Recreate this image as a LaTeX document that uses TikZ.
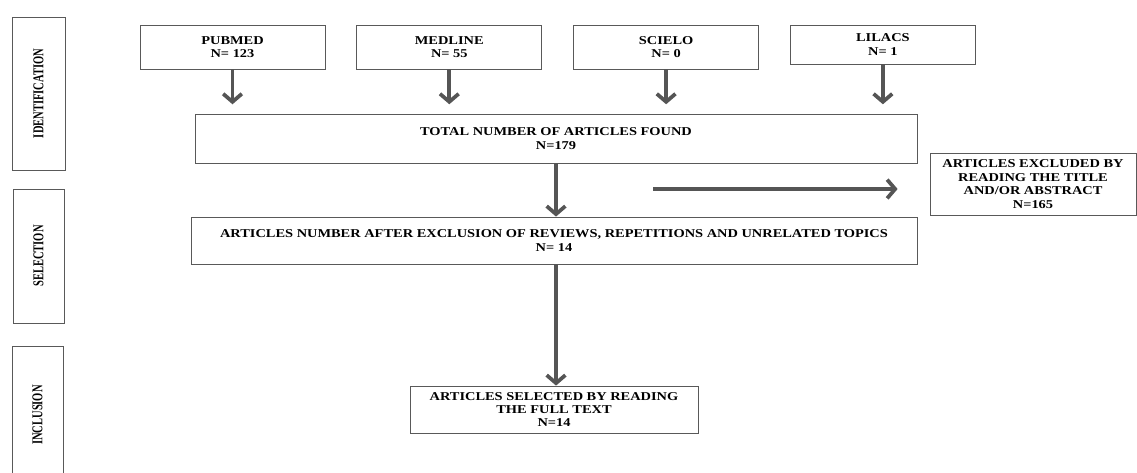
\documentclass[tikz,border=0pt]{standalone}
\usepackage{fontspec}
\setmainfont{Liberation Serif}
\newfontfamily\boxfont{Liberation Serif}[FakeStretch=1.2]
\newfontfamily\stagefont{Liberation Serif}[FakeStretch=0.7]
\usetikzlibrary{positioning,arrows.meta}

\begin{document}
\begin{tikzpicture}[x=0.75pt, y=-0.75pt,
    box/.style={draw=gray!70!black, line width=0.6pt, align=center, inner sep=2pt,
      font=\boxfont\bfseries\fontsize{9}{10.1}\selectfont},
    srcbox/.style={box, minimum width=138.75pt, minimum height=33pt},
    stage/.style={draw=gray!70!black, line width=0.6pt, rotate=90, inner sep=2pt,
      font=\stagefont\bfseries\fontsize{11.25}{13}\selectfont},
    flow/.style={draw=gray!67!black, line width=2.8pt,
      -{Straight Barb[length=6pt,width=14pt]}}]

    \useasboundingbox (0,0) rectangle (1137,473);

    % stages
    \node[stage, minimum width=114.75pt, minimum height=39.75pt] (ident) at (38.5,93.5) {IDENTIFICATION};
    \node[stage, minimum width=100.5pt, minimum height=38.25pt] (sel) at (38.5,256) {SELECTION};
    \node[stage, minimum width=103.5pt, minimum height=38.25pt] (incl) at (37.5,415) {INCLUSION};

    % databases
    \node[srcbox] (pubmed) at (232.5,47) {PUBMED\\N= 123};
    \node[srcbox, right=23.25pt of pubmed] (medline) {MEDLINE\\N= 55};
    \node[srcbox, right=23.25pt of medline] (scielo) {SCIELO\\N= 0};
    \node[srcbox, minimum height=29.25pt, right=23.25pt of scielo.north east, anchor=north west] (lilacs) {LILACS\\N= 1};

    % counts
    \node[box, minimum width=541.5pt, minimum height=36.75pt] (total) at (556,138.5) {TOTAL NUMBER OF ARTICLES FOUND\\N=179};
    \node[box, minimum width=544.5pt, minimum height=35.25pt] (after) at (554,240.5)
      {ARTICLES NUMBER AFTER EXCLUSION OF REVIEWS, REPETITIONS AND UNRELATED TOPICS\\N= 14};
    \node[box, minimum width=216pt, minimum height=35.25pt] (final) at (554,409.5)
      {ARTICLES SELECTED BY READING\\THE FULL TEXT\\N=14};
    \node[box, minimum width=154.5pt, minimum height=46.5pt] (excl) at (1033,184)
      {ARTICLES EXCLUDED BY\\READING THE TITLE\\AND/OR ABSTRACT\\N=165};
    \coordinate (cut) at (653,189);

    \foreach \src in {pubmed,medline,scielo,lilacs}
      \draw[flow, shorten >=7pt] (\src.south) -- (\src.south |- total.north);
    \draw[flow] (total.south) -- (total.south |- after.north);
    \draw[flow] (total.south |- after.south) -- (total.south |- final.north);
    \draw[flow, shorten >=24pt] (cut) -- (cut -| excl.west);
\end{tikzpicture}
\end{document}
